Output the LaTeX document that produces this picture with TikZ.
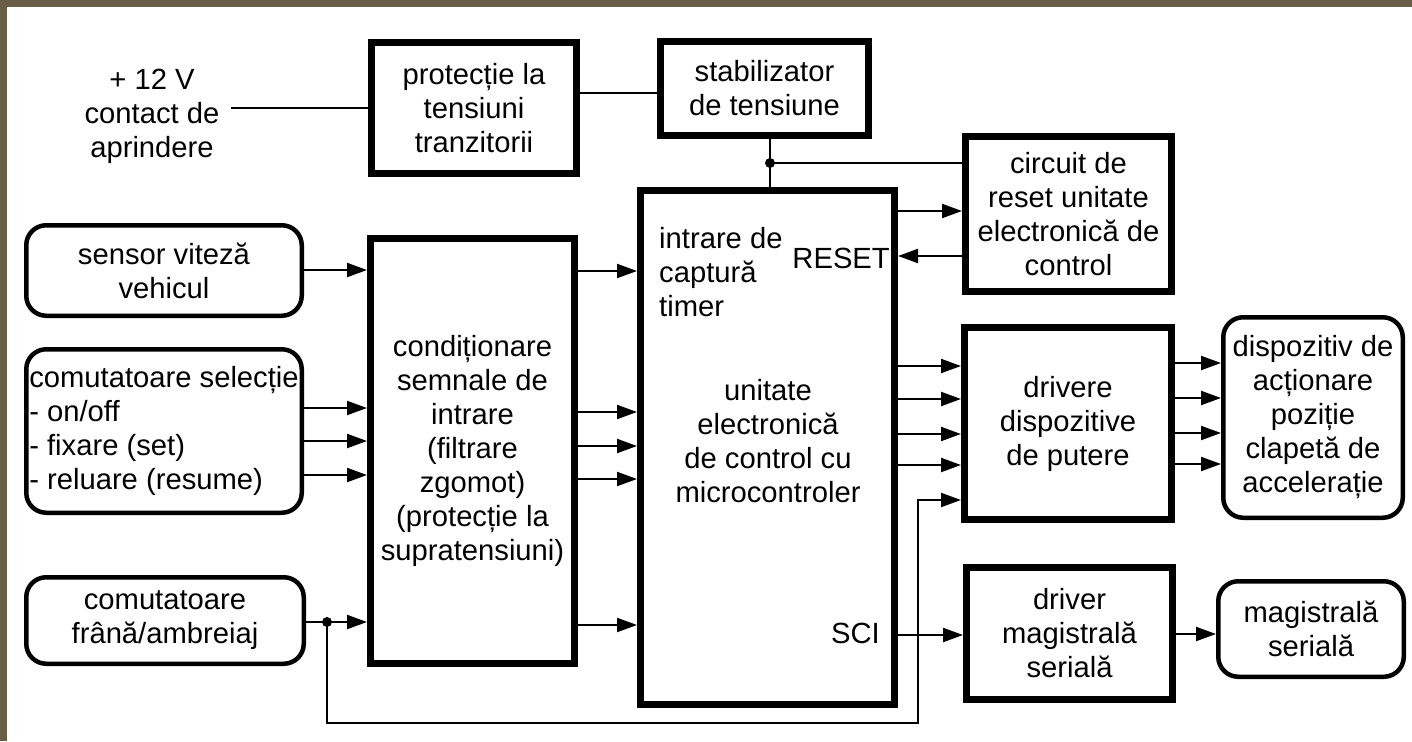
\documentclass[tikz,border=0pt]{standalone}
\usepackage{fontspec}
\setmainfont{Liberation Sans}
\usetikzlibrary{arrows.meta,calc}
\definecolor{framebrown}{RGB}{104,94,72}
\begin{document}
\begin{tikzpicture}[x=1pt,y=-1pt,
  every node/.style={font=\fontsize{29.2}{34}\selectfont, inner sep=0pt},
  tbox/.style={draw, line width=7pt, rectangle, align=center},
  rbox/.style={draw, line width=4.5pt, rectangle, rounded corners=20pt, align=center},
  conn/.style={line width=2.2pt},
  arr/.style={conn, -{Triangle[length=20pt,width=14pt]}},
  jdot/.style={circle, fill, inner sep=0pt, minimum size=10pt}
]
\fill[framebrown] (0,0) rectangle (1412,741);
\fill[white] (7,7) rectangle (1412,741);
\useasboundingbox (0,0) rectangle (1412,741);

% boxes
\node[tbox, minimum width=205pt, minimum height=131pt] (prot) at (474,108) {protecție la\\tensiuni\\tranzitorii};
\node[tbox, minimum width=208pt, minimum height=94pt] (stab) at (764.5,88.5) {stabilizator\\de tensiune};
\node[tbox, minimum width=206pt, minimum height=155pt] (reset) at (1068.5,214) {circuit de\\reset unitate\\electronică de\\control};
\node[tbox, minimum width=254pt, minimum height=514pt] (main) at (767.5,447.5) {};
\node[tbox, minimum width=204pt, minimum height=425pt] (cond) at (472.5,451) {condiționare\\semnale de\\intrare\\(filtrare\\zgomot)\\(protecție la\\supratensiuni)};
\node[rbox, minimum width=275.5pt, minimum height=90.5pt] (sensor) at (164,270.5) {sensor viteză\\vehicul};
\node[rbox, minimum width=275.5pt, minimum height=163.5pt, align=left] (comut) at (164,431) {comutatoare selecție\\- on/off\\- fixare (set)\\- reluare (resume)};
\node[rbox, minimum width=277.5pt, minimum height=86.5pt] (frana) at (165,620.5) {comutatoare\\frână/ambreiaj};
\node[tbox, minimum width=207pt, minimum height=192pt] (drivere) at (1068,423.5) {drivere\\dispozitive\\de putere};
\node[rbox, minimum width=179.5pt, minimum height=200.5pt] (disp) at (1313,417.5) {dispozitiv de\\acționare\\poziție\\clapetă de\\accelerație};
\node[tbox, minimum width=206pt, minimum height=132pt] (drvmag) at (1069.5,633.5) {driver\\magistrală\\serială};
\node[rbox, minimum width=185.5pt, minimum height=95.5pt] (magser) at (1311,629) {magistrală\\serială};

% free text
\node[align=center] (v12) at (152,116) {+ 12 V\\contact de\\aprindere};
\node[align=left, anchor=west] (cap) at (659,272) {intrare de\\captură\\timer};
\node[anchor=east] (rst) at (890,258) {RESET};
\node[align=center] (uec) at (768,441) {unitate\\electronică\\de control cu\\microcontroler};
\node[anchor=east] (sci) at (880,633) {SCI};

% supply connectors
\coordinate (v12e) at (231,108);
\draw[conn] (v12e) -- (prot.west);
\draw[conn] (prot.east |- 0,93) -- (stab.west |- 0,93);
\coordinate (j1) at (770,163);
\draw[conn] (j1 |- stab.south) -- (j1 |- main.north);
\draw[conn] (j1) -- (j1 -| reset.west);
\node[jdot] at (j1) {};

% reset
\draw[arr] (main.east |- 0,211) -- (reset.west |- 0,211);
\draw[arr] (reset.west |- 0,256) -- (main.east |- 0,256);

% inputs
\draw[arr] (sensor.east |- 0,270) -- (cond.west |- 0,270);
\foreach \yy in {408,441,475}
  \draw[arr] (comut.east |- 0,\yy) -- (cond.west |- 0,\yy);
\coordinate (j2) at (327,622);
\draw[arr] (frana.east |- 0,622) -- (cond.west |- 0,622);
\node[jdot] at (j2) {};

% conditioning -> main
\foreach \yy in {271,412,446,479,625}
  \draw[arr] (cond.east |- 0,\yy) -- (main.west |- 0,\yy);

% main -> drivers
\foreach \yy in {366,399,434,465}
  \draw[arr] (main.east |- 0,\yy) -- (drivere.west |- 0,\yy);
\foreach \yy in {363,398,433,464}
  \draw[arr] (drivere.east |- 0,\yy) -- (disp.west |- 0,\yy);

% feedback from brake
\coordinate (fb) at (918,723);
\draw[arr] (j2) -- (j2 |- fb) -- (fb) -- (fb |- 0,500) -- (drivere.west |- 0,500);

% serial
\draw[arr] (main.east |- 0,635) -- (drvmag.west |- 0,635);
\draw[arr] (drvmag.east |- 0,634) -- (magser.west |- 0,634);
\end{tikzpicture}
\end{document}
